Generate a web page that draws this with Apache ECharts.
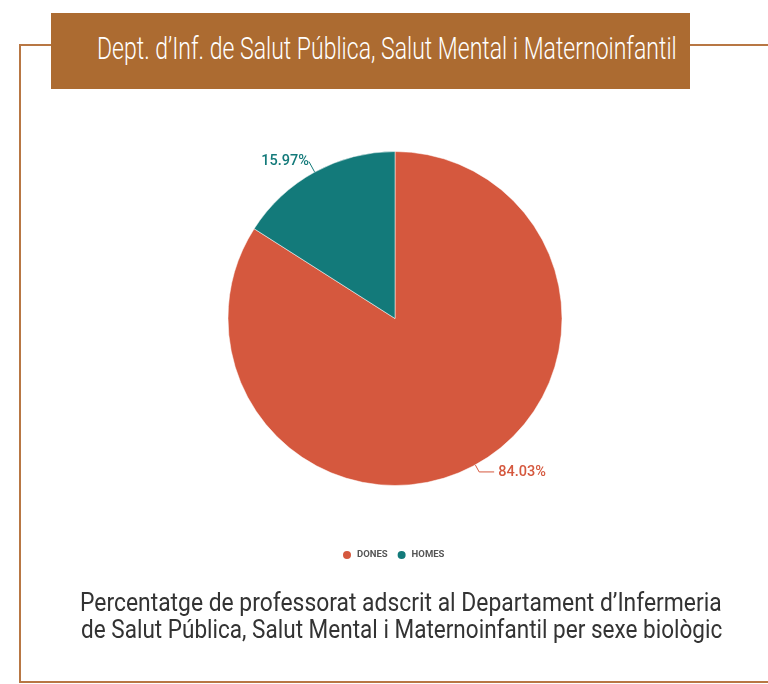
<!DOCTYPE html>
<html>
<head>
<meta charset="utf-8">
<script src="https://cdn.jsdelivr.net/npm/echarts@6/dist/echarts.min.js"></script>
<style>
  html, body { margin: 0; padding: 0; background: #fff; }
  #wrap { position: relative; width: 768px; height: 684px; overflow: hidden; }
  .frame-left { position: absolute; left: 19px; top: 44px; width: 2px; height: 639px; background: #B87744; }
  .frame-top { position: absolute; left: 19px; top: 44px; width: 760px; height: 2px; background: #B87744; }
  .frame-bottom { position: absolute; left: 19px; top: 681px; width: 760px; height: 2px; background: #B87744; }
  .title-box { position: absolute; left: 51px; top: 13px; width: 639px; height: 76px; background: #AC6B31; }
  .txt { position: absolute; white-space: nowrap; transform-origin: left top; font-family: Roboto, sans-serif; font-weight: 300; }
  #ttl { color: #fff; font-size: 31px; line-height: 30px; left: 97px; top: 34px; }
  .cap { color: #333; font-size: 25px; line-height: 27px; font-weight: 400; }
  #cap1 { left: 80px; top: 589px; }
  #cap2 { left: 81px; top: 616px; }
  #chart { position: absolute; left: 0; top: 0; width: 768px; height: 684px; }
</style>
</head>
<body>
<div id="wrap">
  <div class="frame-left"></div>
  <div class="frame-top"></div>
  <div class="frame-bottom"></div>
  <div id="chart"></div>
  <div class="title-box"></div>
  <span class="txt" id="ttl">Dept. d’Inf. de Salut Pública, Salut Mental i Maternoinfantil</span>
  <span class="txt cap" id="cap1">Percentatge de professorat adscrit al Departament d’Infermeria</span>
  <span class="txt cap" id="cap2">de Salut Pública, Salut Mental i Maternoinfantil per sexe biològic</span>
</div>
<script>
var categories = ['DONES', 'HOMES'];
var values = [84.03, 15.97];
var colors = ['#D5583E', '#137A7A'];

// ajustar amplada dels textos (lletra condensada)
function fit(id, w) {
  var el = document.getElementById(id);
  var r = w / el.offsetWidth;
  el.style.transform = 'scaleX(' + r + ')';
}
fit('ttl', 580);
fit('cap1', 642);
fit('cap2', 641);

var myChart = echarts.init(document.getElementById('chart'));
// linies d'etiqueta: DONES mes llarga, HOMES curta
var lines = [
  { length: 8, length2: 15 },
  { length: 12, length2: 0 }
];
var data = categories.map(function (c, i) {
  return {
    name: c,
    value: values[i],
    itemStyle: { color: colors[i] },
    labelLine: lines[i],
    label: { distanceToLabelLine: i == 1 ? 0 : 4 }
  };
});
var option = {
  animation: false,
  legend: {
    bottom: 118,
    left: 336,
    icon: 'circle',
    itemWidth: 10,
    itemHeight: 10,
    itemGap: 8,
    textStyle: { fontSize: 9.5, fontWeight: 'bold', color: '#555', fontFamily: 'Roboto' },
    data: categories
  },
  series: [{
    type: 'pie',
    center: [395, 318.5],
    radius: ['0%', 167],
    startAngle: 90,
    clockwise: true,
    itemStyle: { borderColor: '#fff', borderWidth: 0.5 },
    label: {
      show: true,
      formatter: function (p) { return p.value.toFixed(2) + '%'; },
      fontFamily: 'Roboto',
      fontSize: 14.5,
      fontWeight: 500,
      color: 'inherit'
    },
    labelLine: { show: true, lineStyle: { width: 1 } },
    data: data
  }]
};
myChart.setOption(option);
</script>
</body>
</html>
